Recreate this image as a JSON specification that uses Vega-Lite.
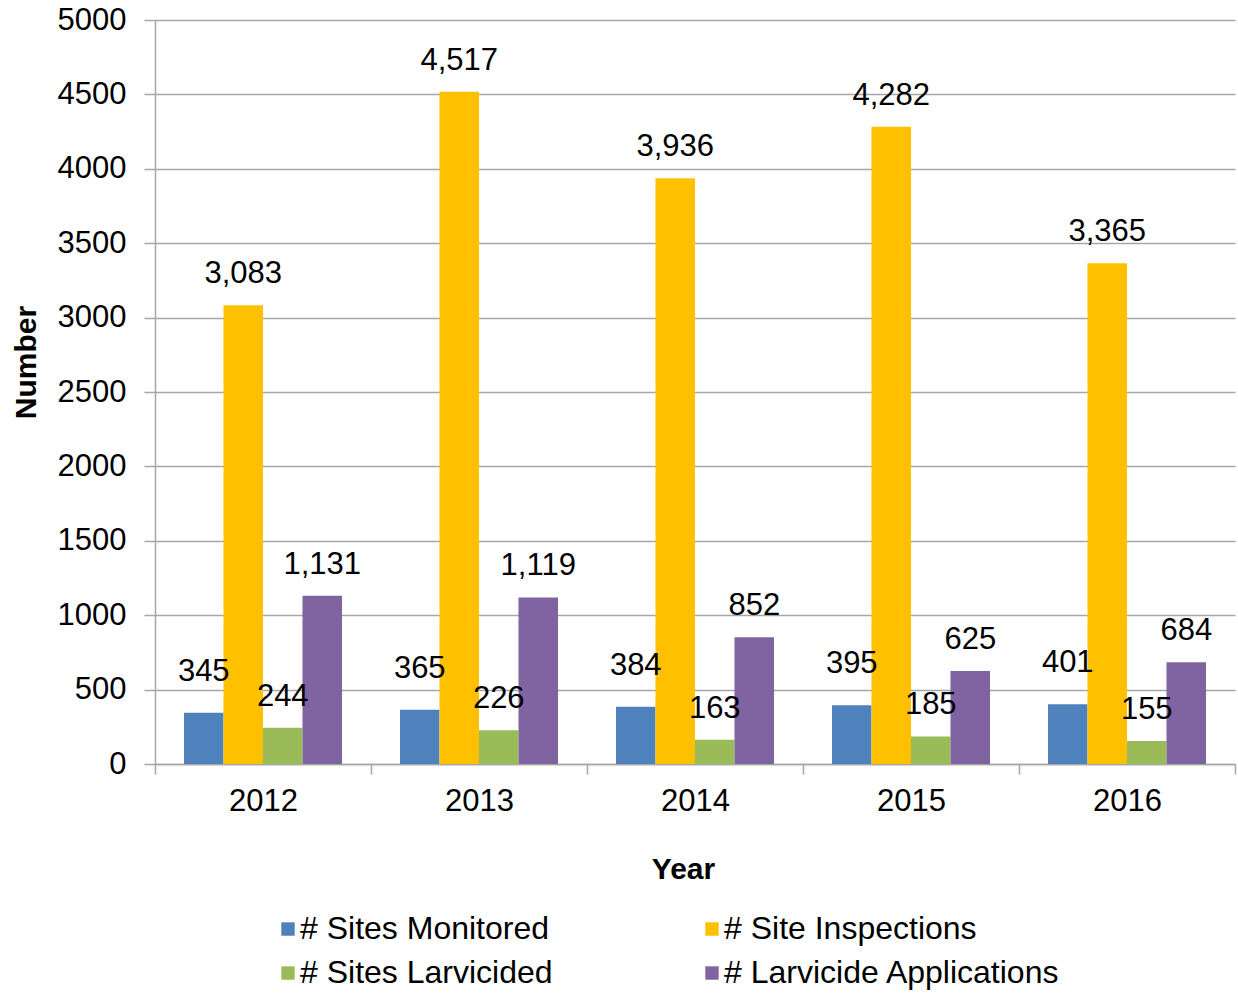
{
  "$schema": "https://vega.github.io/schema/vega-lite/v6.json",
  "autosize": {"type": "none"},
  "padding": {"left": 155, "top": 20, "right": 3, "bottom": 230},
  "width": 1080,
  "height": 744,
  "background": "white",
  "config": {
    "view": {"stroke": null},
    "font": "Liberation Sans",
    "axis": {"labelFont": "Liberation Sans", "titleFont": "Liberation Sans"}
  },
  "data": {
    "values": [
      {"Year": "2012", "Series": "# Sites Monitored", "Value": 345},
      {"Year": "2012", "Series": "# Site Inspections", "Value": 3083},
      {"Year": "2012", "Series": "# Sites Larvicided", "Value": 244},
      {"Year": "2012", "Series": "# Larvicide Applications", "Value": 1131},
      {"Year": "2013", "Series": "# Sites Monitored", "Value": 365},
      {"Year": "2013", "Series": "# Site Inspections", "Value": 4517},
      {"Year": "2013", "Series": "# Sites Larvicided", "Value": 226},
      {"Year": "2013", "Series": "# Larvicide Applications", "Value": 1119},
      {"Year": "2014", "Series": "# Sites Monitored", "Value": 384},
      {"Year": "2014", "Series": "# Site Inspections", "Value": 3936},
      {"Year": "2014", "Series": "# Sites Larvicided", "Value": 163},
      {"Year": "2014", "Series": "# Larvicide Applications", "Value": 852},
      {"Year": "2015", "Series": "# Sites Monitored", "Value": 395},
      {"Year": "2015", "Series": "# Site Inspections", "Value": 4282},
      {"Year": "2015", "Series": "# Sites Larvicided", "Value": 185},
      {"Year": "2015", "Series": "# Larvicide Applications", "Value": 625},
      {"Year": "2016", "Series": "# Sites Monitored", "Value": 401},
      {"Year": "2016", "Series": "# Site Inspections", "Value": 3365},
      {"Year": "2016", "Series": "# Sites Larvicided", "Value": 155},
      {"Year": "2016", "Series": "# Larvicide Applications", "Value": 684}
    ]
  },
  "encoding": {
    "x": {
      "field": "Year", "type": "nominal",
      "scale": {"paddingInner": 0, "paddingOuter": 0},
      "axis": {
        "title": "Year", "labelAngle": 0, "labelFontSize": 31, "labelColor": "#000000",
        "titleFontSize": 30, "titleFontWeight": "bold", "titleColor": "#000000", "titlePadding": 38,
        "titleX": 528,
        "domainColor": "#a6a6a6", "domainWidth": 1.5,
        "tickColor": "#a6a6a6", "tickSize": 10, "tickWidth": 1.5, "tickBand": "extent",
        "labelPadding": 12, "grid": false
      }
    },
    "xOffset": {
      "field": "Series", "type": "nominal",
      "sort": ["# Sites Monitored", "# Site Inspections", "# Sites Larvicided", "# Larvicide Applications"],
      "scale": {"paddingInner": 0, "paddingOuter": 0.734}
    },
    "y": {
      "field": "Value", "type": "quantitative",
      "scale": {"domain": [0, 5000], "nice": false},
      "axis": {
        "title": "Number", "values": [0, 500, 1000, 1500, 2000, 2500, 3000, 3500, 4000, 4500, 5000],
        "format": "d",
        "labelFontSize": 31, "labelColor": "#000000", "labelPadding": 18,
        "titleFontSize": 30, "titleFontWeight": "bold", "titleColor": "#000000", "titlePadding": 16,
        "titleY": 342,
        "domainColor": "#a6a6a6", "domainWidth": 1.5,
        "tickColor": "#a6a6a6", "tickSize": 11, "tickWidth": 1.5,
        "gridColor": "#a6a6a6", "gridWidth": 1.5
      }
    }
  },
  "layer": [
    {
      "mark": {"type": "bar"},
      "encoding": {
        "color": {
          "field": "Series", "type": "nominal",
          "sort": ["# Sites Monitored", "# Site Inspections", "# Sites Larvicided", "# Larvicide Applications"],
          "scale": {
            "domain": ["# Sites Monitored", "# Site Inspections", "# Sites Larvicided", "# Larvicide Applications"],
            "range": ["#4F81BD", "#FFC000", "#9BBB59", "#8064A2"]
          },
          "legend": {
            "title": null, "orient": "none", "legendX": 117, "legendY": 893, "direction": "horizontal",
            "columns": 2, "columnPadding": 143, "rowPadding": 12,
            "symbolType": "square", "symbolSize": 180, "symbolStrokeWidth": 0,
            "labelFontSize": 32, "labelColor": "#000000", "labelOffset": -4, "labelLimit": 500,
            "labelExpr": "datum.label == '# Site Inspections' ? '\u2002 # Site Inspections' : datum.label"
          }
        }
      }
    },
    {
      "transform": [{"filter": "datum.Series === '# Sites Monitored'"}],
      "mark": {"type": "text", "baseline": "middle", "dy": -41, "fontSize": 31, "color": "#000000"},
      "encoding": {"text": {"field": "Value", "type": "quantitative", "format": ","}}
    },
    {
      "transform": [{"filter": "datum.Series !== '# Sites Monitored'"}],
      "mark": {"type": "text", "baseline": "middle", "dy": -31, "fontSize": 31, "color": "#000000"},
      "encoding": {"text": {"field": "Value", "type": "quantitative", "format": ","}}
    }
  ]
}
